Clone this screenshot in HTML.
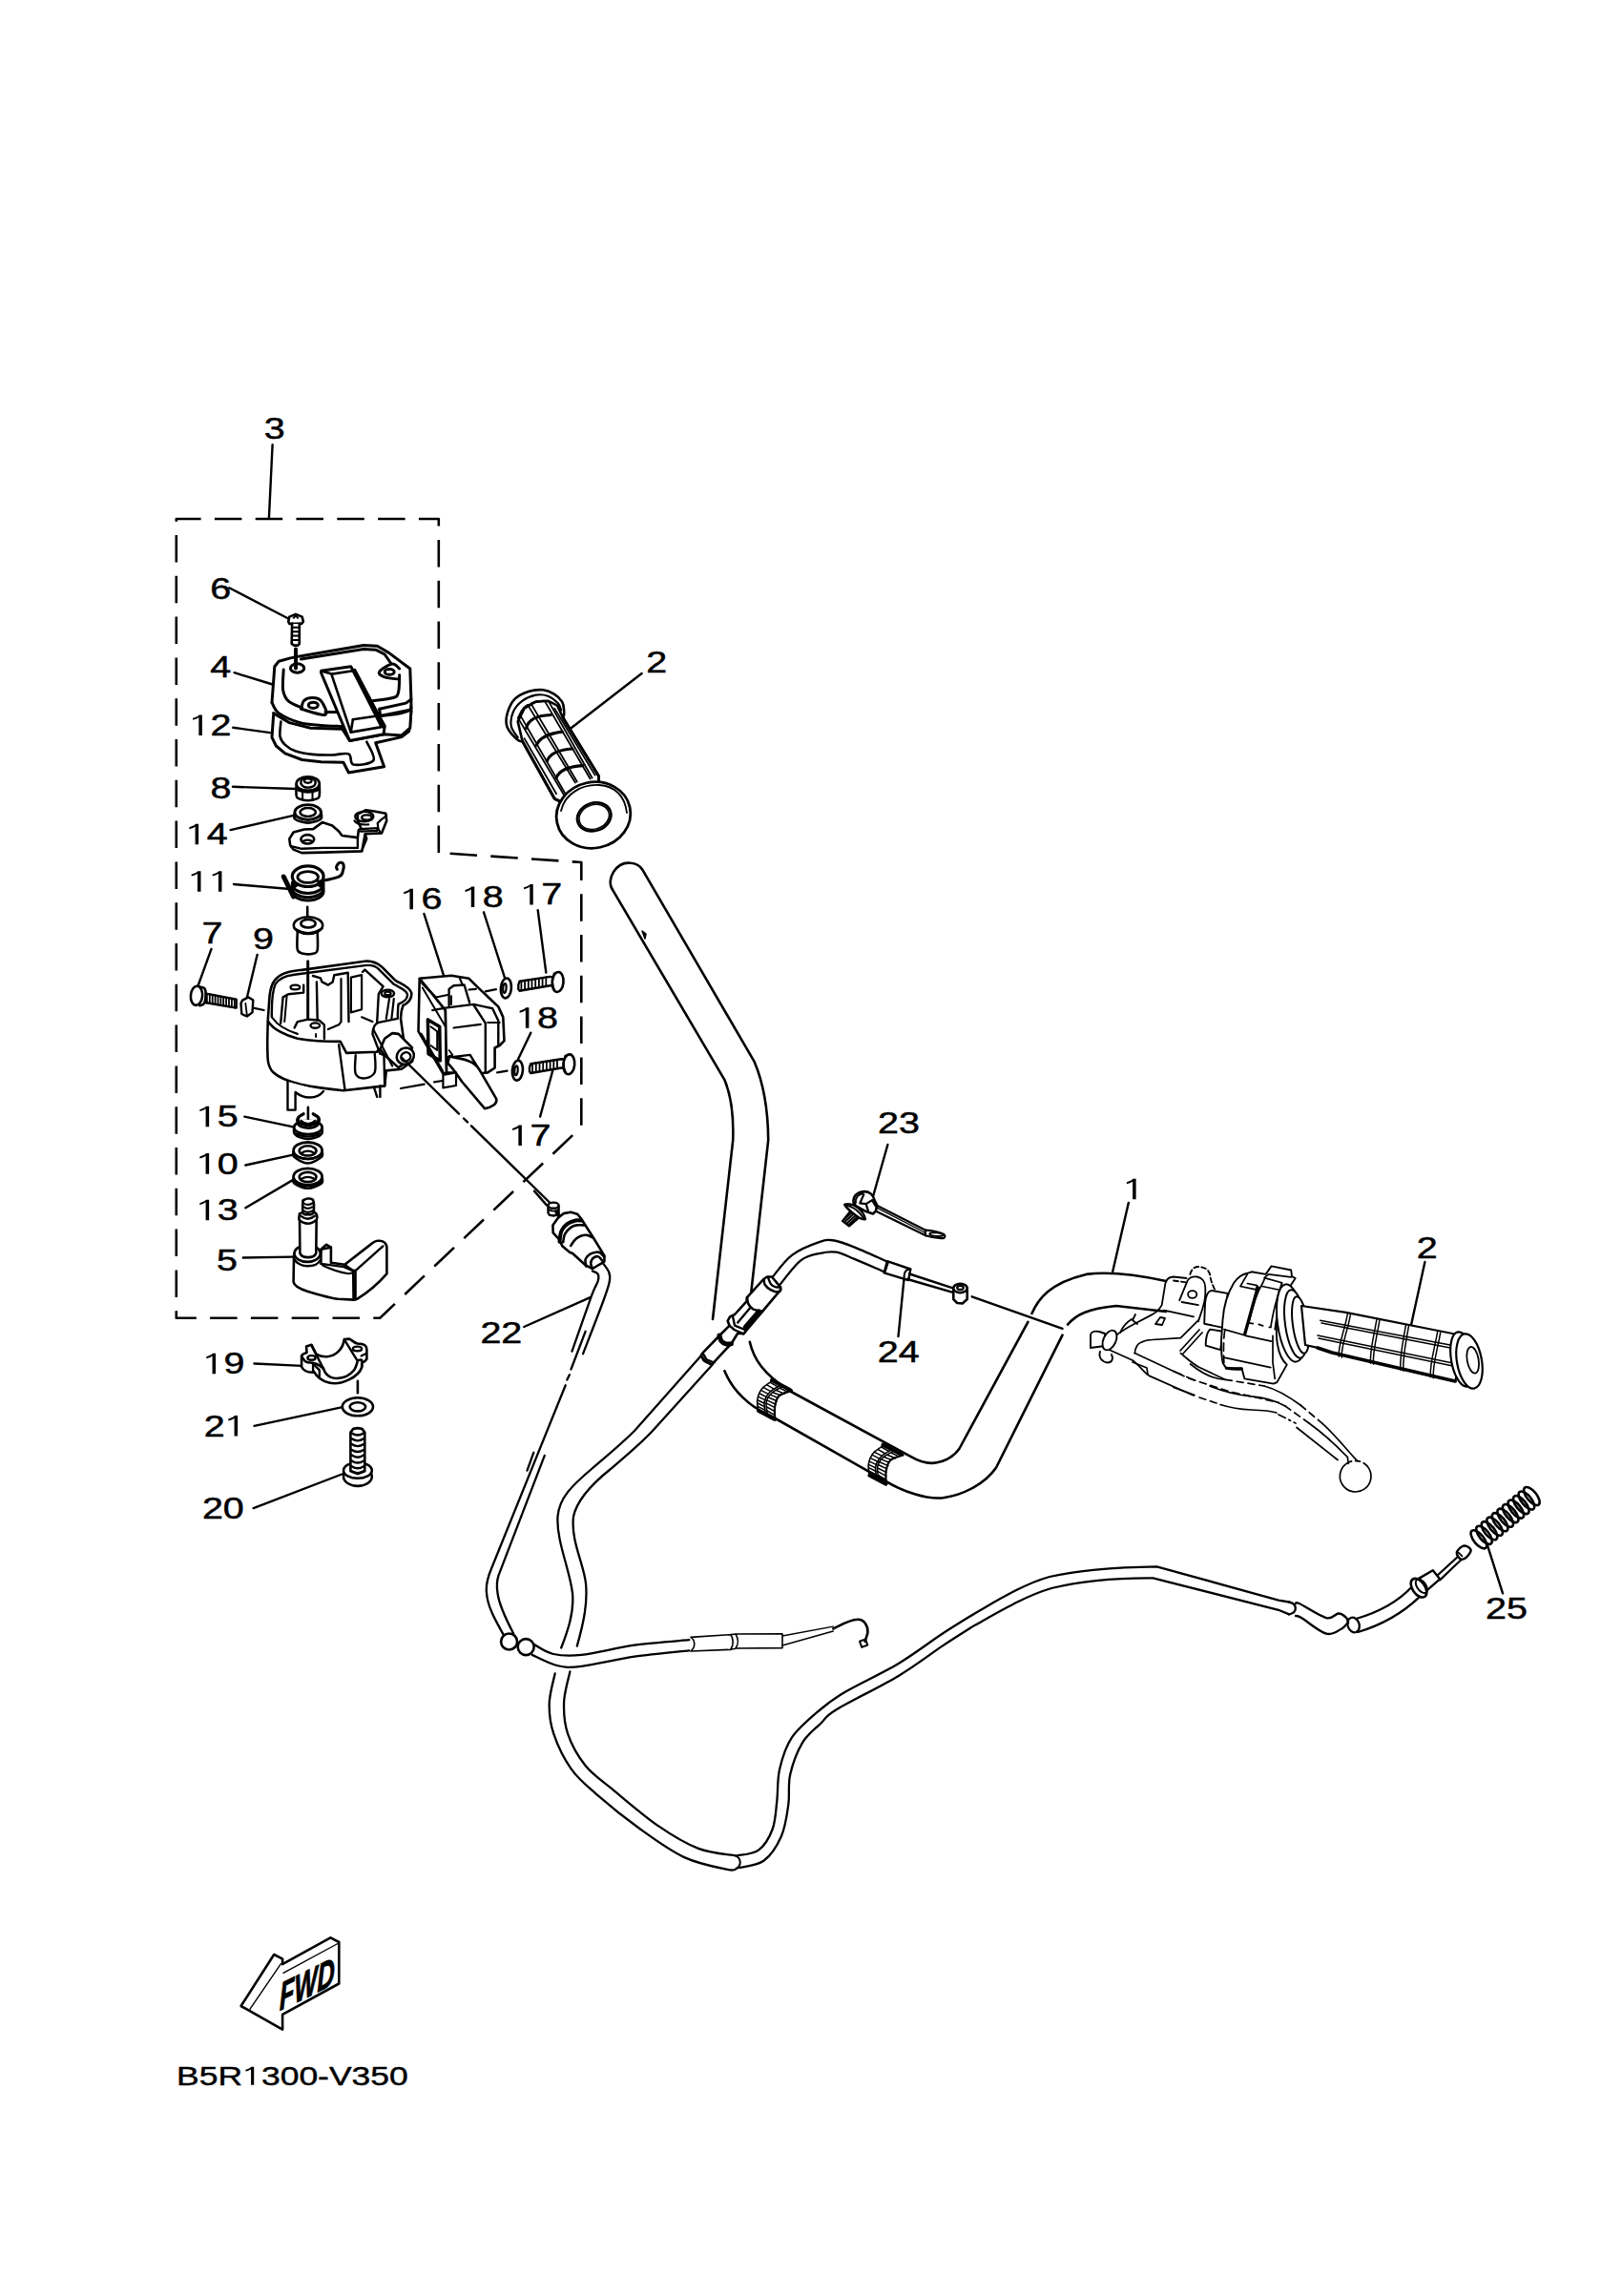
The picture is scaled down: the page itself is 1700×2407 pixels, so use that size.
<!DOCTYPE html>
<html><head><meta charset="utf-8"><style>
html,body{margin:0;padding:0;background:#fff;}
svg{display:block;}
text{font-family:"Liberation Sans",sans-serif;fill:#000;} .lbl text, .lbl path{stroke:#000;stroke-width:1.5px;}
</style></head><body>
<svg width="1700" height="2407" viewBox="0 0 1700 2407">
<g fill="none" stroke="#000" stroke-linecap="round" stroke-linejoin="round">
<!-- leaders -->
<g stroke-width="2.4">
<path d="M285.6,466.3 L281.9,543.3"/>
<path d="M240.3,616.2 L302.2,648.5"/>
<path d="M245.6,705.2 L285.6,717.5"/>
<path d="M244.3,762.8 L285,768.4"/>
<path d="M244,824.8 L310.3,827"/>
<path d="M241.6,870.1 L308.8,854.7"/>
<path d="M245,927 L301,931.7"/>
<path d="M221.5,994.9 L207,1035"/>
<path d="M269.6,1001 L258.5,1047.3"/>
<path d="M444.4,957.9 L465,1022.6"/>
<path d="M507,956.3 L529.2,1025.7"/>
<path d="M563.7,954.2 L572.3,1019.5"/>
<path d="M556.3,1082.7 L543,1110.5"/>
<path d="M580,1119.7 L566.1,1170.6"/>
<path d="M256.3,1170.6 L307.2,1181.4"/>
<path d="M257.3,1221.5 L307.2,1210.7"/>
<path d="M257.3,1266.2 L307.2,1236.9"/>
<path d="M254.8,1318.5 L307.2,1317.6"/>
<path d="M549.2,1391 L618.6,1360.1"/>
<path d="M266.5,1429.5 L316.5,1431.9"/>
<path d="M266.5,1494.8 L359,1475.1"/>
<path d="M265.6,1581.1 L359.6,1545"/>
<path d="M672.6,706 L598.6,763.3"/>
<path d="M930.4,1200 L915.1,1254"/>
<path d="M1182.8,1261 L1166.2,1333.1"/>
<path d="M941.5,1401 L948.4,1331.7"/>
<path d="M1493.4,1323 L1476.4,1401"/>
<path d="M1575,1670.3 L1559,1620.2"/>
</g>
<!-- dashed box -->
<path stroke-width="2.6" stroke-linecap="butt" stroke-dasharray="28.5 14.3" d="M459.8,894 L459.8,544 L184.8,544 L184.8,1381.7 L398.2,1381.7 L609.3,1181.4 L609.3,904 L459.8,894"/>
<!-- handlebar -->
<g stroke-width="2.6">
<path d="M641.2,931.4 C636,922 645,903 661,904.7 C667,905 671,908 673.3,911.7 L790.4,1112.6 C800,1135 805,1165 805.2,1195.3 L787.2,1355.4"/>
<path d="M641.2,931.4 L759.6,1132.4 C766,1148 769,1172 768.2,1195.3 L747,1383"/>
<path d="M759.4,1437.2 C768,1458 786,1475 805.5,1483 L927.6,1552.3 C945,1563 972,1573 990,1570 C1010,1567 1033,1555 1044.1,1538.5 L1113.5,1399.7"/>
<path d="M1119,1388.6 C1128,1378 1140,1372 1170,1369 L1222,1375"/>
<path d="M785.8,1406.7 C790,1425 800,1440 827.4,1458 L955.3,1527.4 C965,1533 975,1535 983,1533 C993,1531 1000,1526 1005.3,1519 L1077.4,1385.8 M1081.5,1377 C1088,1362 1100,1345 1138.5,1335.9 C1160,1333 1190,1336 1222,1343"/>
</g>
<path stroke-width="1.5" fill="#000" d="M673,976 L676,984 L677,979 Z"/>
<!-- FWD arrow -->
<g stroke-width="2.6">
<path d="M252.6,2103 L296.1,2127.6 L296.1,2111.9 L355.3,2079.5 L355.3,2036 L346.4,2031.4 L296.1,2059.2 L296.1,2053.6 L287.2,2049 Z"/>
<path stroke-width="1.4" d="M261.9,2106.3 L294.3,2058.8 M297,2068.4 L355,2037"/>
</g>

<path stroke-width="2.3"  d="M581.7,1754.3 C580.7,1759.6 575.9,1775.6 575.7,1786.2 C575.5,1796.8 576.4,1806.3 580.3,1817.7 C584.1,1829.1 591.4,1844.2 598.8,1854.7 C606.2,1865.2 612.7,1870.1 624.7,1880.6 C636.7,1891.1 655.6,1906.4 671.0,1917.5 C686.4,1928.6 701.8,1940.0 717.2,1947.1 C732.6,1954.2 754.1,1958.2 763.4,1960.1 C772.6,1961.9 771.2,1958.5 772.7,1958.2"/>
<path stroke-width="2.3"  d="M597.4,1752.4 C596.4,1757.7 591.5,1773.5 591.1,1784.4 C590.7,1795.3 591.4,1806.6 595.1,1817.7 C598.9,1828.8 605.6,1841.1 613.6,1851.0 C621.6,1860.9 630.6,1866.4 643.2,1876.9 C655.9,1887.4 674.7,1903.7 689.5,1913.9 C704.3,1924.1 718.5,1932.7 732.0,1937.9 C745.5,1943.1 764.3,1944.1 770.8,1945.3"/>
<path stroke-width="2.3" d="M735.7,1420.3 L665,1500 C650,1515 635,1527 620,1540 C600,1557 586,1570 584.5,1590 C583,1615 597,1645 600,1670 C602,1690 595,1710 588.2,1727.5"/>
<path stroke-width="2.3" d="M746.8,1430.5 L684,1500 C670,1515 655,1527 640,1540 C625,1552 605,1570 601,1590 C598,1615 612,1640 614,1660 C616,1680 612,1700 604.8,1725.6"/>
<path stroke-width="2" d="M770.8,1945.3 C777,1948 777,1955 772.7,1958.2"/>
<path stroke-width="2.3" d="M773.6,1958.2 C778.1,1957.0 792.9,1956.3 800.4,1950.8 C807.9,1945.3 814.6,1934.8 818.9,1925.0 C823.2,1915.2 824.8,1902.5 826.3,1891.7 C827.8,1880.9 825.7,1871.0 828.2,1860.2 C830.7,1849.4 835.8,1835.8 841.1,1826.9 C846.4,1818.0 854.0,1812.8 860.0,1807.0 C866.0,1801.2 863.4,1800.3 877.0,1792.0 C890.6,1783.7 923.2,1768.0 941.7,1756.9 C960.2,1745.8 974.8,1734.2 988.0,1725.4 C1001.2,1716.6 1015.7,1707.6 1021.2,1704.1 C1050,1688 1075,1673 1102,1665 C1130,1658 1170,1654 1208.4,1654.3 L1340,1687.8 L1351.1,1692.4"/>
<path stroke-width="2.3" d="M772.7,1945.3 C776.4,1944.4 788.7,1944.3 794.9,1939.7 C801.1,1935.1 806.5,1926.1 809.7,1917.5 C812.9,1908.9 813.1,1898.5 814.3,1888.0 C815.5,1877.5 814.5,1865.8 817.1,1854.7 C819.7,1843.6 822.9,1831.9 830.0,1821.4 C837.1,1811.0 850.6,1800.0 860.0,1792.0 C869.4,1784.0 872.6,1781.5 886.2,1773.5 C899.8,1765.5 924.7,1754.1 941.7,1743.9 C958.7,1733.7 974.1,1721.6 988.0,1712.5 C1001.9,1703.4 1018.8,1693.2 1025.0,1689.4 C1050,1675 1075,1660 1100,1653 C1130,1646 1170,1643 1212.4,1642.3 L1340,1677.6 L1351.1,1679.5"/>
<path stroke-width="2.3" d="M1351.1,1679.5 C1359,1681 1361,1690 1351.1,1692.4"/>
<path stroke-width="2.3"  d="M1358.0,1681.0 C1358.7,1681.0 1356.9,1678.8 1362.2,1681.3 C1367.5,1683.8 1383.2,1694.4 1390.0,1696.1 C1396.8,1697.8 1399.4,1691.5 1402.9,1691.5 C1406.4,1691.5 1409.5,1694.4 1411.2,1696.1 C1412.9,1697.8 1412.8,1700.8 1413.1,1701.7"/>
<path stroke-width="2.3"  d="M1358.0,1694.0 C1359.0,1694.3 1358.7,1693.0 1364.0,1696.1 C1369.3,1699.2 1382.9,1710.8 1390.0,1712.7 C1397.1,1714.6 1402.9,1709.0 1406.6,1707.2 C1410.3,1705.4 1411.2,1702.6 1412.1,1701.7"/>
<ellipse stroke-width="2.3" cx="1418.6" cy="1703.5" rx="6" ry="8" transform="rotate(-20 1418.6 1703.5)"/>
<path stroke-width="2.3"  d="M1421.4,1697.0 Q1458.4,1686.5 1480.6,1662.8"/>
<path stroke-width="2.3"  d="M1423.2,1711.0 Q1461.2,1699.7 1488.0,1673.9"/>
<path stroke-width="2.3"  d="M808.8,1339.9 C812.3,1335.9 821.5,1322.2 830.0,1315.8 C838.5,1309.4 852.6,1304.1 860.0,1301.6 C867.4,1299.0 868.9,1299.7 874.4,1300.5 C879.9,1301.3 884.2,1303.0 893.3,1306.6 C902.4,1310.2 923.0,1319.5 929.0,1322.1"/>
<path stroke-width="2.3"  d="M817.0,1347.3 C820.7,1343.0 832.1,1327.0 839.3,1321.4 C846.5,1315.8 853.8,1315.2 860.0,1313.8 C866.2,1312.3 870.7,1311.7 876.6,1312.7 C882.5,1313.7 887.2,1316.5 895.5,1319.9 C903.8,1323.3 921.4,1331.0 926.6,1333.2"/>
<path stroke-width="2.3"  d="M620.9,1332.5 C621.9,1333.0 625.7,1334.0 626.7,1335.7 C627.7,1337.5 627.8,1339.2 626.7,1343.0 C625.6,1346.8 624.4,1346.4 619.9,1358.7 C615.4,1371.0 602.9,1407.0 599.5,1416.7"/>
<path stroke-width="2.3"  d="M630.3,1322.1 C631.6,1324.0 636.8,1329.9 638.2,1333.6 C639.6,1337.2 639.8,1338.8 638.7,1344.0 C637.7,1349.2 636.5,1352.5 631.9,1365.0 C627.3,1377.5 614.5,1410.2 611.0,1419.3"/>
<path stroke-width="2.3" d="M613.6,1395.8 L598.5,1435.5 M596.9,1441.3 L594.3,1446.5 M559.3,1522.8 L552.5,1541.6"/>
<path stroke-width="2.3" d="M592.7,1452.2 L515.1,1644.3 C511,1654 509,1662 510,1670 C511,1685 520,1700 528.1,1714.5"/>
<path stroke-width="2.3" d="M570.8,1525.9 L522.5,1651.7 C520.5,1658 520.5,1664 521.5,1670 C523,1682 530,1697 538.3,1712.7"/>
<circle stroke-width="2.6" cx="533.6" cy="1721" r="8.5" fill="#fff"/>
<circle stroke-width="2.6" cx="551.2" cy="1726.6" r="8.5" fill="#fff"/>
<path stroke-width="2.3"  d="M559.5,1723.8 C562.9,1725.5 571.6,1732.2 579.9,1734.0 C588.2,1735.8 595.3,1736.5 609.5,1734.9 C623.7,1733.4 646.2,1727.3 665.0,1724.7 C683.8,1722.1 712.8,1720.1 722.3,1719.2"/>
<path stroke-width="2.3"  d="M557.7,1734.9 C562.0,1736.8 575.0,1744.0 583.6,1746.0 C592.2,1748.0 595.9,1748.5 609.5,1746.9 C623.1,1745.4 646.2,1739.5 665.0,1736.7 C683.8,1733.9 712.8,1731.4 722.3,1730.3"/>
<path stroke-width="1.6" d="M724,1716.4 L765.7,1713.6 L772,1713 L820,1712.8 M724,1731 L765.7,1729.3 L772,1728 L820,1727.6 M724,1716.4 C729,1720 729,1727 724,1731 M765.7,1713.6 C769,1718 769,1725 765.7,1729.3 M771,1713 C774,1718 774,1724 771,1728 M820,1712.8 L820,1727.6"/>
<path stroke-width="1.3" d="M820,1715 L873.3,1705.1 M820,1725 L873.3,1710"/>
<path stroke-width="2.6" d="M873.3,1707.5 C882,1703 890,1698 899.2,1697.7 C906,1697.5 910,1705 909.4,1712 L906.6,1720.8"/>
<rect stroke-width="2" x="902" y="1719.5" width="6.5" height="6.5" transform="rotate(-20 905 1723)"/>
<g stroke-width="1.7">
<path d="M1247.6,1430 C1260,1440 1272,1446 1284.3,1446.3"/>
<path stroke-dasharray="7 5" d="M1284.3,1446.3 L1325,1453"/>
<path d="M1325,1453 C1340,1457 1352,1465 1363,1473"/>
<path stroke-dasharray="7 5" d="M1363,1473 L1386,1492.4"/>
<path d="M1386,1492.4 C1398,1503 1410,1518 1422.6,1531.7"/>
<path stroke-dasharray="9 6" d="M1230,1437.5 L1252,1447"/>
<path d="M1268,1453 C1280,1458 1295,1462 1311.4,1463.9 C1325,1465 1338,1469 1347,1474"/>
<path stroke-dasharray="7 5" d="M1347,1474 L1372,1492"/>
<path d="M1372,1492 C1390,1505 1405,1520 1412.4,1527.7 L1413.1,1534.4"/>
<path d="M1230,1454.4 L1252,1462.5"/>
<path stroke-dasharray="7 5" d="M1257,1465 L1275,1471"/>
<path d="M1279,1472.5 C1290,1476 1300,1477.5 1311.4,1478 C1325,1478.5 1333,1479.5 1338,1481"/>
<path stroke-dasharray="8 4 2 4" d="M1340,1483 L1358,1492"/>
<path d="M1359,1496.5 L1402,1530.5"/>
<path d="M1413.5,1533 A16.3,16.3 0 1 0 1433,1537"/>
<path stroke-dasharray="5 4" d="M1433,1537 A16.3,16.3 0 0 0 1413.5,1533"/>
<path d="M1159.7,1413.7 L1186.9,1426 C1195,1432 1200,1440 1204.1,1442.1 L1251,1463"/>
<path d="M1189.3,1418.6 L1241.1,1442.7"/>
<path stroke-dasharray="7 5" d="M1246,1445 L1290,1459.3 L1318.8,1465.5 L1340,1470.4"/>
<path d="M1189.3,1418.6 C1190,1412 1193,1408 1195.5,1407.5 C1200,1405 1204,1404.5 1207.8,1404.5 L1237.4,1402.6 L1255.9,1384.1"/>
<path d="M1237.4,1418.6 C1245,1425 1250,1430 1257.1,1433.4 L1283,1445.8"/>
<path d="M1237,1416 L1257,1394 M1240,1419 L1260,1397"/>
<path d="M1187,1428 L1202,1434 L1203,1441"/>
</g>
<g stroke-width="1.8">
<path d="M1168.4,1400.8 C1175,1396 1181,1392 1186.9,1389 L1206.6,1378.6 C1212,1376 1215,1373 1217.7,1368.1 L1221.4,1345.3 C1223,1340 1226,1338.5 1230,1338.5 L1243.6,1340"/>
<path stroke-dasharray="5 3" d="M1230,1342.5 L1243,1344.5"/>
<path d="M1236.2,1363.2 L1244.8,1342.2 C1247,1339 1251,1338 1254.7,1338.5 C1260,1339.5 1263.3,1344 1263.3,1350 L1263.3,1357 C1263,1365 1261,1370 1259.6,1374.3 L1255.9,1385.4"/>
<path stroke-dasharray="5 3" d="M1247.3,1336 C1249,1330 1252,1328 1256,1328 C1262,1328 1267,1331 1268,1336 C1269,1343 1271,1347 1273.2,1352.1"/>
<ellipse cx="1249.7" cy="1357" rx="4.6" ry="3.8"/>
<path d="M1238.6,1365 L1255.9,1368.1 M1220.1,1373.6 L1251,1380.4"/>
<path d="M1211,1388 L1216,1381 L1221,1382 L1218,1389 Z"/>
<path d="M1186,1383 C1181,1386 1177,1390 1174,1397 M1190,1378 L1187,1384 L1192,1388"/>
</g>
<g stroke-width="1.9" fill="#fff">
<path d="M1143,1413 L1143,1399 C1144,1396 1148,1395 1152,1396 L1158,1398 L1158,1411 Z"/>
<ellipse cx="1163" cy="1405" rx="6.5" ry="11" transform="rotate(25 1163 1405)"/>
<path d="M1153,1417 C1151,1423 1155,1428 1161,1428.5 C1166,1428 1167,1424 1165,1420"/>
</g>
<path stroke-width="1.9" fill="#fff"  d="M 1286.6,1355.9 L 1269.6,1352.9 C 1266.7,1353.6 1263.7,1358.1 1263.0,1366.2 L 1262.2,1387.7 L 1282.9,1392.1 Z"/>
<path stroke-width="1.9" fill="#fff"  d="M 1281.5,1395.8 L 1268.1,1393.6 C 1265.2,1396.6 1263.7,1402.5 1263.7,1410.6 L 1279.2,1415.1 Z"/>
<path stroke-width="1.9" fill="#fff"  d="M 1281.5,1384.0 C 1282.2,1372.9 1285.2,1358.1 1293.3,1344.8 C 1297.0,1339.6 1301.4,1335.9 1307.3,1334.8 L 1311.8,1333.3 L 1326.6,1335.9 L 1332.5,1327.4 L 1353.2,1331.5 L 1354.0,1338.1 L 1357.7,1340.0 C 1352.5,1347.0 1342.9,1361.8 1338.4,1384.0 C 1336.9,1398.8 1337.7,1421.0 1348.8,1430.6 L 1338.4,1449.1 L 1334.7,1450.6 L 1304.4,1445.4 L 1301.4,1434.3 L 1285.2,1434.3 L 1282.2,1429.9 C 1280.0,1425.4 1280.0,1413.6 1280.0,1406.2 L 1280.7,1395.1 Z"/>
<path stroke-width="1.7"  d="M 1300.0,1348.5 L 1307.3,1335.9 M 1300.0,1348.5 L 1316.2,1351.8 L 1317.7,1347.7 L 1307.3,1345.5"/>
<path stroke-width="1.7"  d="M 1303.6,1399.5 L 1317.7,1348.5 M 1305.1,1400.3 L 1319.2,1349.2"/>
<path stroke-width="1.7"  d="M 1308.8,1386.9 C 1311.8,1372.9 1317.7,1354.4 1323.6,1344.8 L 1325.8,1339.6"/>
<path stroke-width="1.7"  d="M 1322.9,1348.5 L 1342.1,1352.5 L 1343.6,1344.8 L 1325.1,1339.6 L 1329.5,1335.9 L 1353.2,1338.9"/>
<path stroke-width="1.7"  d="M 1331.8,1391.4 C 1334.0,1376.6 1337.7,1361.8 1343.6,1344.8 M 1336.2,1393.6 C 1338.4,1376.6 1342.1,1358.1 1348.8,1347.0"/>
<path stroke-width="1.7"  d="M 1308.8,1386.9 L 1313.3,1387.7 M 1319.2,1388.4 L 1323.6,1389.9 M 1330.3,1391.4 L 1331.8,1391.4"/>
<path stroke-width="1.7"  d="M 1282.9,1393.6 L 1303.6,1399.5 M 1305.9,1400.3 L 1332.5,1406.2 M 1282.9,1423.2 L 1331.8,1433.6"/>
<path stroke-width="1.7"  d="M 1334.0,1400.3 L 1334.0,1428.4 L 1336.2,1445.4"/>
<path stroke-width="1.7" stroke-dasharray="8 5" d="M 1283.7,1395.1 C 1282.2,1402.5 1282.2,1421.0 1282.9,1428.4"/>
<path stroke-width="3"  d="M 1285.2,1434.3 C 1289.6,1435.0 1297.0,1435.8 1301.4,1435.0"/>
<g stroke-width="2" fill="#fff">
<ellipse cx="1353" cy="1387" rx="14" ry="41" transform="rotate(-8 1353 1387)"/>
<ellipse cx="1358" cy="1388" rx="11" ry="36" transform="rotate(-8 1358 1388)"/>
<ellipse cx="1363" cy="1389" rx="8" ry="30" transform="rotate(-8 1363 1389)"/>
</g>
<path fill="#fff" stroke-width="2.2" d="M1364,1369 L1410.6,1375.8 L1536.3,1400.8 L1525.2,1448 L1396,1418 L1381,1412.8 L1368,1410 Z"/>
<path stroke-width="3.5" d="M1381,1413 L1396,1418 L1525.2,1448"/>
<path stroke-width="1.5" d="M1383.7,1384.2 L1525.2,1411 M1385,1387 L1525.2,1414 M1381,1399.9 L1525.2,1429.5 M1382,1403 L1525.2,1432.5"/>
<path stroke-width="1.5" d="M1412.4,1377.1 C1409.4,1395.1 1402.2,1410.1 1403.2,1422.1 M1415.4,1378.1 C1412.4,1396.1 1405.2,1411.1 1406.2,1423.1"/>
<path stroke-width="1.5" d="M1442.9,1383.2 C1439.9,1401.2 1435.5,1416.2 1436.5,1429.1 M1445.9,1384.2 C1442.9,1402.2 1438.5,1417.2 1439.5,1430.1"/>
<path stroke-width="1.5" d="M1473.4,1389.3 C1470.4,1407.3 1466.9,1422.3 1467.9,1436.1 M1476.4,1390.3 C1473.4,1408.3 1469.9,1423.3 1470.9,1437.1"/>
<path stroke-width="1.5" d="M1506.7,1395.9 C1503.7,1413.9 1498.3,1428.9 1499.3,1443.8 M1509.7,1396.9 C1506.7,1414.9 1501.3,1429.9 1502.3,1444.8"/>
<g stroke-width="2.2" fill="#fff">
<ellipse cx="1533" cy="1425" rx="12" ry="29" transform="rotate(-10 1533 1425)"/>
<ellipse cx="1540" cy="1427" rx="13" ry="29" transform="rotate(-10 1540 1427)"/>
<ellipse stroke-width="1.8" cx="1543.7" cy="1425.8" rx="6" ry="14" transform="rotate(-10 1543.7 1425.8)"/>
</g>
<path stroke-width="3" fill="#fff"  d="M286.6,749.9 L285.0,773.2 L289.4,782.0 L298.9,789.8 L316.6,796.5 L336.6,798.7 L359.9,799.2 L365.4,810.0 L402.6,803.7 L393.7,778.7 L420.9,772.6 L428.7,766.5 L430.9,745.4"/>
<path stroke-width="2.6"  d="M294.4,756.5 C294.3,759.1 292.8,768.0 293.5,772.0 C294.3,776.1 296.1,778.3 298.9,780.9 C301.6,783.5 305.1,785.9 310.0,787.6 C314.8,789.2 321.4,790.3 327.7,790.9 C334.0,791.6 341.4,791.6 347.7,791.5 C354.0,791.4 361.6,788.7 365.4,790.4 C369.2,792.0 366.1,800.3 370.4,801.5 C374.8,802.6 389.2,801.0 391.5,797.0 C393.8,793.0 385.5,780.8 384.3,777.6"/>
<path stroke-width="2.6"  d="M422.0,751.5 L420.4,763.7 L407.6,767.1"/>
<path stroke-width="3" fill="#fff"  d="M285.0,736.5 L287.8,698.8 L292.2,693.3 L304.4,689.9 L314.4,687.9 L381.0,676.6 L395.4,677.2 L407.6,684.4 L429.8,701.0 L430.9,733.2 L430.9,745.4 L429.8,763.2 L420.9,770.9 L402.1,769.8 L366.5,776.5 L358.8,764.3 L325.5,763.2 L303.3,757.6 L286.6,747.6"/>
<path stroke-width="3"  d="M285.0,736.5 C286.2,738.4 287.3,744.1 292.2,747.6 C297.1,751.1 307.0,755.5 314.4,757.6 C321.8,759.7 329.2,759.7 336.6,760.4 C344.0,761.0 355.1,761.3 358.8,761.5"/>
<path stroke-width="3"  d="M430.9,733.2 L425.4,737.1 L397.6,743.2 L398.7,750.4 L429.8,744.3"/>
<path stroke-width="3"  d="M399.8,750.4 Q433.1,747.4 430.9,741.0"/>
<path stroke-width="3"  d="M315.5,691.0 L381.0,680.5 L394.3,681.3 L403.2,686.0 L409.8,695.5"/>
<path stroke-width="3"  d="M297.2,702.1 C297.1,705.6 295.8,717.8 296.6,723.2 C297.5,728.7 298.9,731.7 302.2,734.9 C305.5,738.0 314.2,740.9 316.6,742.1"/>
<path stroke-width="3"  d="M418.7,707.7 C418.5,710.6 418.7,721.5 417.6,725.4 C416.5,729.4 416.9,730.0 412.0,731.5 C407.2,733.1 392.6,734.3 388.7,734.9"/>
<path stroke-width="3"  d="M341.0,746.5 L354.3,746.5"/>
<path stroke-width="3"  d="M315.5,743.2 C316.1,741.7 316.8,736.3 318.8,734.3 C320.9,732.4 324.7,731.4 327.7,731.5 C330.7,731.6 334.4,731.9 336.6,734.9 C338.8,737.8 344.5,747.9 341.0,749.3 C337.5,750.7 319.8,744.2 315.5,743.2"/>
<ellipse stroke-width="3" cx="328.3" cy="739.3" rx="5.0" ry="3.1" transform="rotate(0 328.3 739.3)"/>
<path stroke-width="3"  d="M418.7,712.1 C416.1,711.8 406.7,711.2 403.2,709.9 C399.7,708.6 396.3,706.7 397.6,704.4 C398.9,702.0 407.4,696.6 410.9,696.0 C414.5,695.5 417.4,700.2 418.7,701.0"/>
<ellipse stroke-width="3" cx="408.2" cy="704.4" rx="5.0" ry="2.9" transform="rotate(0 408.2 704.4)"/>
<ellipse stroke-width="3" cx="311.6" cy="700.5" rx="7.2" ry="4.7" transform="rotate(0 311.6 700.5)"/>
<path stroke-width="3" fill="#fff"  d="M336.6,703.2 L367.7,698.8 L403.2,760.9 L402.1,769.8 L366.5,776.5 L336.6,705.5 Z"/>
<path stroke-width="2.6"  d="M337.7,703.8 L347.7,706.6 L369.9,703.2 L399.8,762.1 L367.7,767.6 L347.7,707.7"/>
<path stroke-width="2.6"  d="M369.9,754.3 L392.1,751.0"/>
<path stroke-width="2.6"  d="M369.9,754.3 L367.7,767.6"/>
<path stroke-width="4.5"  d="M371.5,703.2 L402.1,761.5"/>
<path stroke-width="2.6" fill="#fff"  d="M302.2,651.6 L303.3,646.6 L310.0,643.9 L316.6,646.6 L317.9,651.6 L316.1,653.9 L303.3,653.9 L302.2,651.6"/>
<path stroke-width="2"  d="M307.7,647.8 L310.0,645.5 L312.2,647.8"/>
<path stroke-width="2.6" fill="#fff"  d="M306.1,653.9 L305.7,674.9 L308.3,676.6 L312.2,676.6 L313.8,674.9 L313.8,653.9"/>
<path stroke-width="2"  d="M307.2,657.7 L312.7,657.7"/>
<path stroke-width="2"  d="M307.2,662.2 L312.7,662.2"/>
<path stroke-width="2"  d="M307.2,666.6 L312.7,666.6"/>
<path stroke-width="2"  d="M307.2,671.1 L312.7,671.1"/>
<path stroke-width="4"  d="M310.0,680.5 L310.0,700.5"/>
<path stroke-width="2.6" fill="#fff"  d="M310.6,822.4 C310.6,824.3 310.3,831.2 310.6,833.7 C311.0,836.1 310.8,836.2 312.8,837.1 C314.8,838.0 319.4,839.3 322.7,839.3 C326.0,839.3 330.6,838.0 332.7,837.1 C334.7,836.2 334.4,836.1 334.8,833.7 C335.2,831.2 334.8,824.3 334.8,822.4"/>
<ellipse stroke-width="2.6" fill="#fff" cx="322.7" cy="821.6" rx="12.1" ry="7.3" transform="rotate(0 322.7 821.6)"/>
<path stroke-width="2.4" fill="#fff"  d="M315.4,821.6 C315.5,820.9 315.0,818.4 316.3,817.3 C317.5,816.1 320.6,814.7 322.7,814.7 C324.9,814.7 327.9,816.1 329.2,817.3 C330.5,818.4 330.9,820.3 330.5,821.6 C330.1,822.9 328.6,824.5 326.6,825.0 C324.7,825.6 320.7,825.6 318.8,825.0 C317.0,824.5 316.0,822.2 315.4,821.6"/>
<ellipse stroke-width="2.2" cx="322.7" cy="818.6" rx="3.9" ry="2.2" transform="rotate(0 322.7 818.6)"/>
<path stroke-width="4"  d="M312.8,827.6 Q322.7,831.9 332.7,827.6"/>
<path stroke-width="2"  d="M317.1,829.8 L317.1,838.0"/>
<path stroke-width="2"  d="M327.5,829.8 L327.5,838.0"/>
<path stroke-width="2.6" fill="#fff"  d="M308.9,851.8 C309.0,852.9 307.0,856.9 309.3,858.7 C311.6,860.5 318.3,862.6 322.7,862.6 C327.2,862.6 333.8,860.5 336.1,858.7 C338.4,856.9 336.5,852.9 336.5,851.8"/>
<ellipse stroke-width="2.8" fill="#fff" cx="322.7" cy="851.5" rx="13.8" ry="7.9" transform="rotate(0 322.7 851.5)"/>
<ellipse stroke-width="2.6" cx="322.7" cy="851.5" rx="8.2" ry="4.5" transform="rotate(0 322.7 851.5)"/>
<path stroke-width="2.2"  d="M310.2,856.1 Q322.7,863.0 335.2,856.1"/>
<path stroke-width="2.6" fill="#fff"  d="M304.2,886.3 L303.3,879.4 L307.6,872.5 L318.8,869.5 L328.3,869.1 L337.8,862.1 L348.2,865.6 L355.1,871.6 L358.5,876.0 L374.9,878.1 L375.8,870.3 L378.4,868.2 L374.9,860.4 L374.9,853.5 L383.6,849.2 L392.2,850.5 L404.3,852.7 L405.2,860.4 L400.0,873.4 L382.7,874.2 L379.3,892.4 L338.7,893.6 L316.3,894.1 L307.6,890.6 L304.2,886.3"/>
<path stroke-width="2.4"  d="M305.0,887.2 L316.3,889.8 L338.7,888.9 L374.9,888.9 L374.9,878.1"/>
<path stroke-width="2.2"  d="M379.3,891.5 L384.4,879.4 L382.7,874.2"/>
<path stroke-width="2.2"  d="M377.5,869.1 L395.7,868.2 L395.2,870.8 L378.0,871.6"/>
<path stroke-width="2.2"  d="M405.2,855.2 L399.1,859.6 L395.7,863.0 L396.5,869.1 L399.1,873.4"/>
<ellipse stroke-width="2.4" cx="381.8" cy="856.1" rx="9.5" ry="5.2" transform="rotate(0 381.8 856.1)"/>
<ellipse stroke-width="2.4" cx="384.4" cy="857.0" rx="5.2" ry="2.6" transform="rotate(0 384.4 857.0)"/>
<path stroke-width="2.2"  d="M371.5,860.4 Q374.5,865.4 386.2,864.3"/>
<ellipse stroke-width="2.6" cx="322.3" cy="879.8" rx="6.9" ry="4.7" transform="rotate(0 322.3 879.8)"/>
<path stroke-width="2.2"  d="M318.0,881.6 Q322.7,879.6 327.5,882.0"/>
<path stroke-width="5"  d="M297.3,919.1 L307.6,940.0"/>
<path stroke-width="2"  d="M297.7,919.5 L307.4,940.0"/>
<ellipse stroke-width="3" cx="322.7" cy="934.6" rx="16.4" ry="9.5" transform="rotate(0 322.7 934.6)"/>
<ellipse stroke-width="3" cx="322.7" cy="931.2" rx="16.4" ry="9.5" transform="rotate(0 322.7 931.2)"/>
<ellipse stroke-width="3" cx="322.7" cy="926.9" rx="16.4" ry="9.5" transform="rotate(0 322.7 926.9)"/>
<ellipse stroke-width="3.2" fill="#fff" cx="322.7" cy="918.7" rx="16.4" ry="10.8" transform="rotate(0 322.7 918.7)"/>
<ellipse stroke-width="2.8" cx="322.7" cy="919.5" rx="10.8" ry="5.9" transform="rotate(0 322.7 919.5)"/>
<path stroke-width="3"  d="M333.5,924.3 C337.1,923.4 350.8,921.0 355.1,919.1 C359.4,917.2 358.6,915.3 359.4,913.1 C360.2,910.8 360.4,907.2 359.8,905.7 C359.3,904.3 357.2,903.9 356.0,904.4 C354.7,904.9 352.9,907.6 352.5,908.8 C352.1,909.9 353.2,910.9 353.4,911.3"/>
<path stroke-width="2.6"  d="M322.2,950.8 L322.2,966.9"/>
<path stroke-width="2.6" fill="#fff"  d="M311.8,976.5 C311.8,979.7 310.8,991.8 311.8,995.7 C312.9,999.6 315.6,999.1 318.2,999.7 C320.9,1000.4 325.5,1000.4 327.9,999.7 C330.3,999.1 331.9,999.6 332.7,995.7 C333.5,991.8 332.7,979.7 332.7,976.5"/>
<ellipse stroke-width="2.6" fill="#fff" cx="323.0" cy="970.1" rx="15.2" ry="8.8" transform="rotate(0 323.0 970.1)"/>
<ellipse stroke-width="2.6" cx="323.0" cy="968.2" rx="7.7" ry="4.3" transform="rotate(0 323.0 968.2)"/>
<path stroke-width="2.4"  d="M308.6,973.3 Q323.0,982.9 337.5,973.3"/>
<path stroke-width="2.4" fill="#fff"  d="M210.8,1040.6 L247.7,1047.8 L247.7,1056.6 L210.8,1050.2"/>
<path stroke-width="1.8"  d="M214.0,1041.2 L214.0,1051.1"/>
<path stroke-width="1.8"  d="M216.9,1041.8 L216.9,1051.6"/>
<path stroke-width="1.8"  d="M219.8,1042.3 L219.8,1052.1"/>
<path stroke-width="1.8"  d="M222.7,1042.9 L222.7,1052.6"/>
<path stroke-width="1.8"  d="M225.6,1043.4 L225.6,1053.0"/>
<path stroke-width="1.8"  d="M228.5,1044.0 L228.5,1053.5"/>
<path stroke-width="1.8"  d="M231.4,1044.5 L231.4,1054.0"/>
<path stroke-width="1.8"  d="M234.2,1045.1 L234.2,1054.5"/>
<path stroke-width="1.8"  d="M237.1,1045.6 L237.1,1055.0"/>
<path stroke-width="1.8"  d="M240.0,1046.1 L240.0,1055.5"/>
<path stroke-width="1.8"  d="M242.9,1046.7 L242.9,1056.0"/>
<path stroke-width="1.8"  d="M245.8,1047.2 L245.8,1056.5"/>
<path stroke-width="2.6" fill="#fff"  d="M207.6,1034.2 C208.7,1034.5 212.7,1034.5 214.0,1035.8 C215.4,1037.1 215.6,1039.5 215.6,1042.2 C215.6,1044.9 215.1,1049.8 214.0,1051.8 C213.0,1053.8 210.0,1053.8 209.2,1054.2"/>
<ellipse stroke-width="2.6" fill="#fff" cx="206.0" cy="1043.8" rx="6.1" ry="10.1" transform="rotate(5 206.0 1043.8)"/>
<path stroke-width="2.4" fill="#fff"  d="M254.1,1048.6 L260.5,1045.4 L265.3,1048.6 L264.5,1061.4 L258.9,1065.5 L253.3,1063.0 L252.5,1051.8 Z"/>
<path stroke-width="1.8"  d="M257.3,1051.8 L258.9,1064.6"/>
<path stroke-width="2.2"  d="M265.3,1056.6 L276.6,1059.0"/>
<path stroke-width="2.6" fill="#fff"  d="M 280.6,1109.5 C 279.8,1090.3 280.6,1066.3 282.2,1048.6 C 283.0,1034.2 286.2,1026.2 295.8,1021.4 C 302.2,1018.2 308.6,1017.8 318.2,1016.6 L 382.4,1007.7 C 390.4,1006.9 395.2,1009.3 400.0,1013.4 L 414.4,1027.8 C 420.8,1031.8 428.8,1034.2 431.2,1040.6 C 432.0,1047.0 427.2,1051.8 422.4,1054.2 C 420.8,1058.2 420.0,1063.0 420.0,1067.9 L 424.0,1096.7 L 433.6,1104.7 L 432.0,1112.7 L 420.8,1120.8 L 404.8,1122.4 L 403.2,1138.4 L 359.9,1143.2 C 342.3,1141.6 326.3,1139.2 315.0,1136.8 C 302.2,1133.6 292.6,1130.4 286.2,1124.0 C 283.0,1120.8 281.0,1115.9 280.6,1109.5 Z"/>
<path stroke-width="2.4"  d="M 284.9,1066.3 C 284.6,1051.8 285.4,1039.0 288.6,1031.8 C 291.8,1025.4 299.0,1023.0 308.6,1021.7 L 382.4,1012.1 C 388.8,1011.4 393.6,1012.6 396.8,1015.8 L 412.8,1031.8 C 419.2,1035.8 425.6,1037.4 426.9,1042.2 C 427.6,1047.0 424.0,1050.2 417.6,1052.6 C 416.8,1058.2 416.8,1063.0 416.8,1067.9 L 396.8,1071.9 C 392.8,1073.5 391.2,1076.2 390.4,1083.9 L 398.4,1104.7 L 403.2,1106.3"/>
<path stroke-width="2.6"  d="M 281.4,1071.1 C 286.2,1079.1 299.0,1085.5 311.8,1088.7 C 326.3,1091.1 342.3,1091.9 356.7,1091.9 L 363.1,1103.9 L 395.2,1102.8 L 396.8,1099.9"/>
<path stroke-width="2.2"  d="M285.9,1067.5 Q292.7,1077.6 311.8,1083.9"/>
<path stroke-width="2.4"  d="M294.2,1072.7 L296.6,1045.4 L302.2,1042.2 L318.2,1040.6 L318.2,1032.6"/>
<path stroke-width="2"  d="M298.2,1071.1 L300.6,1043.8"/>
<ellipse stroke-width="2.4" cx="309.4" cy="1035.0" rx="4.8" ry="2.4" transform="rotate(0 309.4 1035.0)"/>
<path stroke-width="2.4" fill="#fff"  d="M308.6,1077.5 L311.8,1071.1 L323.0,1068.7 L334.3,1069.5 L339.9,1074.3 L339.9,1088.7"/>
<ellipse stroke-width="2.4" cx="330.3" cy="1075.1" rx="4.8" ry="2.7" transform="rotate(0 330.3 1075.1)"/>
<path stroke-width="2"  d="M331.1,1087.1 L331.1,1083.9"/>
<path stroke-width="3"  d="M322.7,1007.7 L322.7,1067.9"/>
<path stroke-width="2.4"  d="M331.9,1029.4 L332.7,1069.5"/>
<path stroke-width="2.4"  d="M327.9,1023.0 L335.9,1025.4 L337.5,1029.4 L343.9,1032.6 L348.7,1029.4 L350.3,1022.2 L364.7,1019.8 L365.5,1071.1"/>
<path stroke-width="2.2"  d="M357.5,1026.2 L357.5,1071.1 L355.1,1074.3 L343.9,1079.1"/>
<path stroke-width="2.2"  d="M367.9,1024.6 L379.1,1022.2 L379.1,1058.2 L367.9,1061.4 L367.9,1024.6"/>
<path stroke-width="2.2"  d="M379.1,1066.3 L390.4,1071.1"/>
<path stroke-width="2.4"  d="M380.0,1019.0 L382.4,1016.6 L401.6,1034.2 L396.8,1042.2 L395.2,1071.1"/>
<ellipse stroke-width="2.4" cx="406.4" cy="1041.4" rx="6.7" ry="3.8" transform="rotate(0 406.4 1041.4)"/>
<ellipse stroke-width="2.2" cx="406.4" cy="1041.4" rx="3.2" ry="1.8" transform="rotate(0 406.4 1041.4)"/>
<path stroke-width="2.2"  d="M408.0,1047.0 L404.8,1067.9"/>
<path stroke-width="2.2"  d="M412.8,1047.0 L410.4,1067.9"/>
<path stroke-width="2.4"  d="M355.1,1095.1 L361.5,1142.4"/>
<path stroke-width="2.4"  d="M372.7,1106.3 C372.7,1109.5 371.1,1121.6 372.7,1125.6 C374.3,1129.6 379.0,1130.6 382.4,1130.4 C385.7,1130.1 391.0,1128.2 392.8,1124.0 C394.5,1119.7 392.8,1107.9 392.8,1104.7"/>
<path stroke-width="2.4"  d="M402.4,1103.1 L403.2,1138.4"/>
<path stroke-width="2.4" fill="#fff" d="M301.5,1134 L301.5,1163.6 L309.6,1163.6 L309.6,1145 C318,1152 332,1153 339,1144"/>
<path stroke-width="2.4"  d="M392.0,1140.0 L395.2,1149.9"/>
<path stroke-width="2.4"  d="M398.4,1138.4 L398.4,1149.9"/>
<path stroke-width="2.6" fill="#fff"  d="M398.4,1099.9 L403.2,1088.7 L411.2,1083.1 L417.6,1083.9 L432.0,1098.3 L422.4,1115.9 L417.6,1119.1 L403.2,1106.3 Z"/>
<ellipse stroke-width="2.6" fill="#fff" cx="424.8" cy="1107.1" rx="9.3" ry="8.3" transform="rotate(-30 424.8 1107.1)"/>
<ellipse stroke-width="2.4" cx="425.3" cy="1107.9" rx="5.1" ry="4.5" transform="rotate(-30 425.3 1107.9)"/>
<path stroke-width="2.2"  d="M391.2,1079.1 L411.2,1117.5"/>
<path stroke-width="2.4" d="M421.3,1109 L481,1167.6 M486,1172.5 L490,1176.4 M494,1180.3 L578.5,1263"/>
<path stroke-width="2.6" fill="#fff"  d="M439.7,1026.4 L442.2,1025.8 L466.9,1059.1 L468.1,1124.4 L464.4,1125.6 L438.5,1081.2 L439.7,1027.0 Z"/>
<path stroke-width="2"  d="M442.8,1035.6 L466.9,1076.3"/>
<path stroke-width="2"  d="M441.6,1083.7 L464.4,1123.2"/>
<path stroke-width="3.5"  d="M448.4,1068.9 L460.7,1076.3 L461.3,1112.1 L449.0,1104.7 L448.4,1068.9"/>
<path stroke-width="2"  d="M451.4,1076.3 L458.2,1081.2 L458.2,1101.0 L451.4,1096.0"/>
<path stroke-width="2.6" fill="#fff"  d="M439.7,1025.8 L473.0,1022.7 L491.5,1025.8 L500.1,1034.4 L522.3,1055.4 L527.3,1066.4 L528.5,1091.1 L523.6,1096.0 L518.6,1098.5 L518.6,1119.5 L511.2,1124.4 L501.4,1125.6 L468.1,1124.4 L466.9,1059.1 Z"/>
<path stroke-width="2.2"  d="M442.2,1030.7 L457.0,1045.5 L469.3,1043.0"/>
<path stroke-width="2.2"  d="M481.7,1025.1 L491.5,1049.2"/>
<path stroke-width="2.4" fill="#fff"  d="M470.6,1054.1 L470.6,1036.9 L475.5,1033.2 L486.6,1032.5 L492.1,1051.0"/>
<path stroke-width="2"  d="M473.0,1044.3 L473.0,1052.9"/>
<path stroke-width="2.4"  d="M453.3,1059.1 L466.9,1056.6 L496.4,1052.9 L516.2,1057.2 L522.3,1070.1 L522.3,1096.0"/>
<path stroke-width="2.4"  d="M496.4,1053.5 L508.8,1072.6 L508.8,1123.2"/>
<path stroke-width="2.2"  d="M475.5,1077.5 L503.8,1073.8"/>
<path stroke-width="2.2"  d="M511.2,1072.0 L523.6,1072.0"/>
<path stroke-width="2.2"  d="M491.5,1037.5 L498.9,1036.9"/>
<path stroke-width="2.4"  d="M471.8,1108.4 L492.7,1105.9 L500.1,1118.2 L501.4,1125.6"/>
<path stroke-width="3"  d="M475.5,1115.8 L497.7,1114.5"/>
<path stroke-width="2.6" fill="#fff" d="M470.9,1107.4 C485,1110 497,1112 502,1120.7 L520,1151.7 C522,1157 515,1161 508,1162.1 L484.2,1134 C480,1128 475,1120 469.4,1114.7 Z"/>
<path stroke-width="2.2" fill="#fff"  d="M464.4,1126.9 L478.0,1124.4 L478.0,1138.0 L464.4,1140.4 L464.4,1126.9"/>
<path stroke-width="1.8"  d="M470.6,1101.0 L474.3,1105.9 L469.3,1108.4"/>
<path stroke-width="2.2"  d="M508.8,1039.3 L519.9,1037.1"/>
<path stroke-width="2.2"  d="M521.1,1124.4 L531.6,1122.6"/>
<path stroke-width="2.2"  d="M420.0,1141.0 L444.7,1136.7"/>
<path stroke-width="2.2"  d="M455.1,1134.3 L463.8,1133.0"/>
<ellipse stroke-width="2.6" fill="#fff" cx="530.4" cy="1035.9" rx="5.5" ry="10.5" transform="rotate(5 530.4 1035.9)"/>
<ellipse stroke-width="2.2" cx="528.9" cy="1035.9" rx="1.7" ry="4.9" transform="rotate(5 528.9 1035.9)"/>
<path stroke-width="1.6"  d="M526.0,1030.9 L525.4,1040.8"/>
<ellipse stroke-width="2.6" fill="#fff" cx="542.4" cy="1122.2" rx="5.5" ry="10.5" transform="rotate(5 542.4 1122.2)"/>
<ellipse stroke-width="2.2" cx="541.0" cy="1122.2" rx="1.7" ry="4.9" transform="rotate(5 541.0 1122.2)"/>
<path stroke-width="1.6"  d="M538.1,1117.3 L537.5,1127.1"/>
<path stroke-width="2.4" fill="#fff"  d="M543.3,1032.5 L544.5,1028.8 L576.6,1023.9 L580.3,1024.5 L580.3,1033.2 L576.6,1033.2 L544.5,1038.7 L543.3,1036.9 Z"/>
<path stroke-width="1.8"  d="M546.4,1028.8 L546.4,1038.3"/>
<path stroke-width="1.8"  d="M550.1,1028.2 L550.1,1037.7"/>
<path stroke-width="1.8"  d="M553.8,1027.6 L553.8,1037.1"/>
<path stroke-width="1.8"  d="M557.5,1027.0 L557.5,1036.5"/>
<path stroke-width="1.8"  d="M561.2,1026.4 L561.2,1035.9"/>
<path stroke-width="1.8"  d="M564.9,1025.8 L564.9,1035.3"/>
<path stroke-width="1.8"  d="M568.6,1025.1 L568.6,1034.6"/>
<path stroke-width="1.8"  d="M572.3,1024.5 L572.3,1034.0"/>
<ellipse stroke-width="2.6" fill="#fff" cx="584.6" cy="1029.5" rx="5.9" ry="10.5" transform="rotate(5 584.6 1029.5)"/>
<path stroke-width="2"  d="M580.9,1020.2 Q576.9,1029.5 581.5,1038.7"/>
<path stroke-width="2.4" fill="#fff"  d="M555.0,1118.9 L556.3,1115.2 L588.3,1110.2 L592.0,1110.8 L592.0,1119.5 L588.3,1119.5 L556.3,1125.0 L555.0,1123.2 Z"/>
<path stroke-width="1.8"  d="M558.1,1115.2 L558.1,1124.6"/>
<path stroke-width="1.8"  d="M561.8,1114.5 L561.8,1124.0"/>
<path stroke-width="1.8"  d="M565.5,1113.9 L565.5,1123.4"/>
<path stroke-width="1.8"  d="M569.2,1113.3 L569.2,1122.8"/>
<path stroke-width="1.8"  d="M572.9,1112.7 L572.9,1122.2"/>
<path stroke-width="1.8"  d="M576.6,1112.1 L576.6,1121.6"/>
<path stroke-width="1.8"  d="M580.3,1111.5 L580.3,1120.9"/>
<path stroke-width="1.8"  d="M584.0,1110.8 L584.0,1120.3"/>
<ellipse stroke-width="2.6" fill="#fff" cx="596.3" cy="1115.8" rx="5.9" ry="10.5" transform="rotate(5 596.3 1115.8)"/>
<path stroke-width="2"  d="M592.6,1106.5 Q588.6,1115.8 593.2,1125.0"/>
<path stroke-width="2.6" fill="#fff"  d="M308.1,1182.6 C308.2,1183.5 307.5,1186.8 308.6,1188.5 C309.7,1190.1 312.1,1191.5 314.5,1192.4 C316.9,1193.3 320.1,1193.9 322.9,1193.9 C325.7,1193.9 328.9,1193.3 331.3,1192.4 C333.7,1191.5 336.1,1190.1 337.2,1188.5 C338.3,1186.8 337.6,1183.5 337.7,1182.6"/>
<ellipse stroke-width="2.8" fill="#fff" cx="322.9" cy="1182.1" rx="14.8" ry="7.1" transform="rotate(0 322.9 1182.1)"/>
<path stroke-width="2.2"  d="M309.6,1188.5 Q322.9,1194.4 336.2,1188.5"/>
<path stroke-width="2.6" fill="#fff"  d="M311.6,1173.7 C311.8,1174.7 311.2,1178.1 313.0,1179.6 C314.9,1181.1 319.6,1182.6 322.9,1182.6 C326.2,1182.6 330.8,1181.1 332.8,1179.6 C334.7,1178.1 334.4,1174.7 334.7,1173.7"/>
<path stroke-width="3.4"  d="M318.0,1167.8 C317.1,1168.4 313.3,1170.2 312.6,1171.7 C311.8,1173.2 311.8,1175.3 313.5,1176.6 C315.3,1177.9 319.8,1179.6 322.9,1179.6 C326.0,1179.6 330.5,1177.9 332.3,1176.6 C334.1,1175.3 334.4,1173.2 333.8,1171.7 C333.1,1170.2 329.2,1168.4 328.3,1167.8"/>
<path stroke-width="2.2"  d="M315.5,1174.7 Q322.9,1181.6 330.3,1174.7"/>
<path stroke-width="2.6"  d="M322.9,1160.9 L322.9,1172.7"/>
<path stroke-width="2.6" fill="#fff"  d="M307.6,1207.2 C307.8,1208.2 306.1,1211.1 308.6,1213.1 C311.1,1215.2 317.9,1219.5 322.6,1219.5 C327.3,1219.5 334.2,1215.2 336.7,1213.1 C339.2,1211.1 337.5,1208.2 337.7,1207.2"/>
<ellipse stroke-width="2.8" fill="#fff" cx="322.6" cy="1206.2" rx="15.0" ry="8.7" transform="rotate(0 322.6 1206.2)"/>
<ellipse stroke-width="2.6" cx="322.6" cy="1206.4" rx="8.9" ry="5.1" transform="rotate(0 322.6 1206.4)"/>
<path stroke-width="2.2"  d="M316.0,1208.7 Q322.6,1204.7 329.3,1208.7"/>
<path stroke-width="2.2"  d="M309.6,1211.2 Q322.6,1219.1 335.7,1211.2"/>
<path stroke-width="2.6" fill="#fff"  d="M307.6,1234.8 C307.8,1235.8 306.1,1238.9 308.6,1240.8 C311.1,1242.6 317.9,1245.7 322.6,1245.7 C327.3,1245.7 334.2,1242.6 336.7,1240.8 C339.2,1238.9 337.5,1235.8 337.7,1234.8"/>
<ellipse stroke-width="2.8" fill="#fff" cx="322.6" cy="1233.6" rx="15.0" ry="8.7" transform="rotate(0 322.6 1233.6)"/>
<ellipse stroke-width="2.6" cx="322.6" cy="1234.0" rx="8.9" ry="5.1" transform="rotate(0 322.6 1234.0)"/>
<path stroke-width="2.2"  d="M316.0,1235.8 Q322.6,1231.9 329.3,1235.8"/>
<path stroke-width="2.6"  d="M309.6,1239.3 Q322.6,1247.2 335.7,1239.3"/>
<path stroke-width="2.6" fill="#fff"  d="M 308.0,1317.7 L 307.6,1344.1 C 308.4,1348.1 314.0,1351.3 322.1,1353.7 C 334.1,1357.3 346.1,1360.9 354.1,1361.8 L 370.9,1362.6 L 374.2,1361.8 C 382.2,1356.9 394.2,1348.1 405.4,1335.3 L 405.4,1307.3 C 404.6,1302.4 400.6,1300.4 395.8,1300.8 C 391.8,1301.2 389.4,1304.0 386.2,1306.4 L 361.3,1325.7 L 346.9,1323.7 L 346.9,1307.7 L 342.1,1304.8 L 336.5,1309.7 L 336.1,1313.7 C 333.3,1308.9 328.5,1306.4 322.1,1306.4 C 314.0,1306.4 308.0,1310.5 308.0,1317.7 Z"/>
<path stroke-width="2.4"  d="M 336.5,1324.9 L 360.5,1328.1 L 370.1,1332.5"/>
<path stroke-width="2"  d="M 338.1,1326.5 C 346.1,1330.5 355.7,1333.7 365.3,1335.3 L 369.3,1334.5"/>
<path stroke-width="2.4"  d="M 361.3,1326.1 L 370.1,1332.1 L 373.4,1331.3 L 401.4,1306.4"/>
<path stroke-width="2"  d="M 361.3,1326.1 L 362.9,1324.9"/>
<path stroke-width="2.4"  d="M 370.1,1332.1 L 370.5,1362.2 M 372.6,1332.1 L 372.6,1362.6"/>
<path stroke-width="2.4"  d="M 336.5,1309.7 L 346.9,1307.7 M 336.5,1309.7 L 336.5,1324.9"/>
<path stroke-width="2.4"  d="M 308.4,1320.1 C 310.8,1324.9 317.3,1327.3 322.1,1327.3 C 328.5,1327.3 334.1,1324.9 335.7,1320.9"/>
<ellipse stroke-width="2.6" fill="#fff" cx="322.1" cy="1314.1" rx="13.6" ry="8.8" transform="rotate(0 322.1 1314.1)"/>
<path stroke-width="2.6" fill="#fff"  d="M 314.0,1276.8 L 314.4,1313.7 C 315.6,1316.9 318.9,1318.1 322.9,1318.1 C 326.9,1318.1 330.1,1316.9 331.3,1313.7 L 331.7,1276.8"/>
<path stroke-width="2.6" fill="#fff"  d="M314.0,1272.3 C314.0,1273.5 312.6,1277.5 314.0,1279.2 C315.5,1280.9 319.7,1282.7 322.6,1282.7 C325.5,1282.7 329.8,1280.9 331.3,1279.2 C332.7,1277.5 332.7,1274.0 331.3,1272.3 C329.8,1270.7 325.5,1269.4 322.6,1269.4 C319.7,1269.4 315.5,1271.8 314.0,1272.3"/>
<path stroke-width="2.4"  d="M315.5,1274.8 Q322.6,1280.7 329.8,1274.8"/>
<path stroke-width="2.6" fill="#fff"  d="M317.5,1258.5 C317.5,1260.6 316.6,1268.9 317.5,1271.3 C318.3,1273.8 320.8,1273.3 322.6,1273.3 C324.4,1273.3 327.4,1273.8 328.3,1271.3 C329.3,1268.9 329.3,1261.0 328.3,1258.5 C327.4,1256.0 324.4,1256.5 322.6,1256.5 C320.8,1256.5 318.3,1258.2 317.5,1258.5"/>
<path stroke-width="2.2"  d="M318.5,1261.5 Q322.3,1264.4 327.3,1261.5"/>
<path stroke-width="2.2"  d="M318.5,1265.4 Q322.3,1268.4 327.3,1265.4"/>
<path stroke-width="2.2"  d="M318.5,1269.4 Q322.3,1272.3 327.3,1269.4"/>
<path stroke-width="2.6" fill="#fff"  d="M 316.1,1428.8 L 316.1,1421.4 C 316.6,1419.7 319.0,1418.9 321.5,1418.1 L 321.1,1411.4 L 326.5,1409.8 L 331.4,1419.7 C 334.8,1421.8 338.9,1422.6 343.0,1422.2 C 351.3,1421.4 359.6,1414.8 360.8,1404.0 L 366.2,1403.6 C 368.7,1404.8 370.3,1407.3 374.5,1408.5 L 379.4,1409.0 C 382.8,1409.8 384.4,1411.4 384.4,1414.8 L 384.4,1424.7 C 382.8,1427.2 381.5,1428.0 379.4,1428.8 L 379.4,1433.0 C 377.8,1437.9 372.8,1442.9 366.2,1446.2 C 359.6,1449.5 351.3,1451.2 344.7,1449.5 C 338.1,1447.9 333.1,1445.4 329.0,1437.9 L 327.3,1438.8 C 323.2,1438.8 318.2,1437.1 316.1,1433.0 Z"/>
<path stroke-width="2.6"  d="M316.1,1422.2 C316.9,1423.1 318.7,1426.5 320.7,1427.6 C322.7,1428.7 326.1,1428.3 328.1,1428.8 C330.2,1429.3 331.3,1429.5 333.1,1430.5 C334.9,1431.4 337.9,1433.9 338.9,1434.6"/>
<path stroke-width="2.4"  d="M328.1,1429.7 L328.1,1437.9"/>
<path stroke-width="2.4"  d="M329.0,1430.5 L334.8,1436.3 L334.8,1442.9"/>
<path stroke-width="2.4"  d="M326.5,1410.6 L338.9,1434.6"/>
<ellipse stroke-width="2.4" cx="326.5" cy="1423.4" rx="4.1" ry="2.3" transform="rotate(0 326.5 1423.4)"/>
<path stroke-width="2.6"  d="M338.9,1434.6 C339.3,1435.4 340.1,1438.1 341.4,1439.6 C342.6,1441.1 344.4,1442.8 346.3,1443.7 C348.3,1444.6 350.2,1445.1 353.0,1445.0 C355.7,1444.8 359.9,1444.3 362.9,1442.9 C365.9,1441.4 369.2,1438.8 371.2,1436.3 C373.1,1433.8 373.9,1429.4 374.5,1428.0"/>
<path stroke-width="2.4"  d="M361.2,1404.8 L374.5,1426.3 L378.6,1425.5"/>
<path stroke-width="2.4"  d="M379.4,1426.3 L379.0,1433.0"/>
<path stroke-width="2.2"  d="M378.6,1421.4 L383.6,1418.9"/>
<ellipse stroke-width="2.4" cx="374.5" cy="1413.9" rx="4.6" ry="2.3" transform="rotate(0 374.5 1413.9)"/>
<path stroke-width="2.6"  d="M374.9,1447.9 L374.9,1460.3"/>
<ellipse stroke-width="2.6" fill="#fff" cx="374.9" cy="1474.8" rx="16.1" ry="9.5" transform="rotate(0 374.9 1474.8)"/>
<ellipse stroke-width="2.6" cx="374.9" cy="1474.8" rx="8.3" ry="4.6" transform="rotate(0 374.9 1474.8)"/>
<ellipse stroke-width="2.6" fill="#fff" cx="374.9" cy="1548.0" rx="14.9" ry="9.9" transform="rotate(0 374.9 1548.0)"/>
<ellipse stroke-width="2.6" fill="#fff" cx="374.9" cy="1541.4" rx="14.9" ry="8.3" transform="rotate(0 374.9 1541.4)"/>
<path stroke-width="2.6" fill="#fff"  d="M367.4,1542.2 L367.4,1501.6 L370.3,1497.9 L374.9,1497.1 L379.4,1497.9 L382.3,1501.6 L382.3,1542.2 L374.9,1545.1 L367.4,1542.2"/>
<path stroke-width="2.4"  d="M368.7,1502.5 Q374.9,1506.6 381.1,1502.5"/>
<path stroke-width="2.4"  d="M368.7,1508.3 Q374.9,1512.4 381.1,1508.3"/>
<path stroke-width="2.4"  d="M368.7,1514.1 Q374.9,1518.2 381.1,1514.1"/>
<path stroke-width="2.4"  d="M368.7,1519.9 Q374.9,1524.0 381.1,1519.9"/>
<path stroke-width="2.4"  d="M368.7,1525.6 Q374.9,1529.8 381.1,1525.6"/>
<path stroke-width="2.4"  d="M368.7,1531.4 Q374.9,1535.6 381.1,1531.4"/>
<path stroke-width="2.4"  d="M368.7,1537.2 Q374.9,1541.4 381.1,1537.2"/>
<path stroke-width="2.4"  d="M368.7,1542.2 Q374.9,1546.3 381.1,1542.2"/>
<text transform="translate(293,2108) skewY(-26) scale(0.62,1)" font-weight="bold" font-style="italic" font-size="41" style="font-family:'Liberation Sans'">FWD</text>
<path stroke-width="2.4"  d="M560.0,1248.6 L572.9,1263.4"/>
<path stroke-width="2.4" fill="#fff"  d="M574.5,1264.7 L574.5,1271.4 L576.0,1273.9 L580.3,1274.5 L584.7,1273.3 L585.6,1272.1 L585.6,1264.0"/>
<ellipse stroke-width="2.4" fill="#fff" cx="580.0" cy="1263.7" rx="5.5" ry="3.1" transform="rotate(0 580.0 1263.7)"/>
<path stroke-width="1.8"  d="M575.4,1268.4 Q580.3,1271.0 585.3,1268.1"/>
<path stroke-width="4"  d="M583.4,1270.8 L585.9,1275.1"/>
<path stroke-width="2.6" fill="#fff"  d="M585.9,1299.2 L579.7,1292.4 L579.4,1284.4 L584.7,1277.0 L590.8,1272.1 L598.2,1270.8 L605.0,1272.7 L608.7,1277.0 L621.7,1297.3 L633.4,1316.4 L633.4,1322.6 L621.0,1330.0 L613.6,1326.3 L600.1,1314.0 L597.0,1312.7 L589.6,1306.6 Z"/>
<path stroke-width="4"  d="M586.5,1301.7 C586.8,1299.8 587.0,1293.6 588.4,1290.6 C589.7,1287.5 592.1,1285.0 594.5,1283.2 C597.0,1281.3 600.7,1280.1 603.2,1279.5 C605.6,1278.8 608.3,1279.5 609.3,1279.5"/>
<path stroke-width="2.6"  d="M590.2,1302.3 C590.5,1300.8 590.7,1296.2 592.1,1293.6 C593.4,1291.1 596.2,1288.4 598.2,1286.9 C600.3,1285.3 602.0,1284.8 604.4,1284.4 C606.8,1284.0 611.1,1284.4 612.4,1284.4"/>
<path stroke-width="2.6"  d="M598.2,1306.0 C599.0,1304.8 601.3,1300.9 603.2,1299.2 C605.0,1297.4 607.3,1296.2 609.3,1295.5 C611.4,1294.8 613.5,1294.6 615.5,1294.9 C617.4,1295.2 620.1,1296.9 621.0,1297.3"/>
<path stroke-width="2.6"  d="M614.3,1327.5 C614.2,1326.3 612.9,1322.3 613.6,1320.1 C614.4,1318.0 616.6,1315.8 618.6,1314.6 C620.5,1313.4 623.6,1313.0 625.4,1312.7 C627.1,1312.5 627.7,1312.5 629.1,1313.4 C630.4,1314.2 632.6,1317.0 633.4,1317.7"/>
<path stroke-width="2.6"  d="M621.0,1330.0 C620.7,1329.1 619.2,1326.2 619.2,1324.5 C619.2,1322.7 620.0,1320.8 621.0,1319.5 C622.1,1318.3 624.1,1317.3 625.4,1317.1 C626.6,1316.9 627.4,1317.5 628.4,1318.3 C629.5,1319.1 631.0,1321.4 631.5,1322.0"/>
<path stroke-width="2.6" fill="#fff"  d="M800.3,1341.0 L783.0,1360.1 L782.4,1364.4 L770.1,1378.0 L765.1,1380.4 L762.7,1384.7 L764.5,1389.7 L763.9,1390.3 L754.7,1399.5 L736.2,1418.6 L734.9,1421.1 L737.4,1426.0 L745.4,1430.4 L748.5,1427.9 L765.1,1410.0 L766.4,1408.8 L773.2,1397.7 L779.3,1398.3 L785.5,1390.9 L799.1,1374.9 L818.2,1352.1 L818.2,1349.6 L808.9,1338.5 L804.0,1338.5 Z"/>
<path stroke-width="2.4"  d="M800.9,1341.6 C801.0,1342.4 800.4,1344.8 801.5,1346.5 C802.6,1348.3 805.2,1350.7 807.7,1352.1 C810.1,1353.4 814.6,1354.6 816.3,1354.5 C818.1,1354.4 817.9,1352.0 818.2,1351.4"/>
<path stroke-width="2.4"  d="M805.2,1339.7 C805.6,1340.8 806.6,1344.4 807.7,1345.9 C808.8,1347.4 810.6,1348.4 812.0,1349.0 C813.4,1349.6 815.6,1349.5 816.3,1349.6"/>
<path stroke-width="2.6"  d="M783.0,1360.1 C783.2,1361.2 783.2,1364.8 784.3,1366.9 C785.3,1368.9 786.7,1371.1 789.2,1372.4 C791.7,1373.7 797.4,1374.5 799.1,1374.9"/>
<path stroke-width="2.4"  d="M786.7,1370.6 L773.2,1386.6"/>
<path stroke-width="5"  d="M795.4,1374.9 L781.2,1391.5"/>
<path stroke-width="2.4"  d="M768.2,1381.0 L770.1,1389.7 L780.6,1394.0"/>
<path stroke-width="2.4"  d="M764.5,1389.7 L769.5,1394.0 L779.3,1398.3"/>
<path stroke-width="5"  d="M754.0,1400.1 C754.4,1401.1 754.8,1404.3 755.9,1405.7 C757.0,1407.1 759.1,1408.3 760.8,1408.8 C762.6,1409.3 765.5,1408.8 766.4,1408.8"/>
<path stroke-width="2.4"  d="M737.4,1419.9 L740.5,1425.4 L748.5,1428.5"/>
<path stroke-width="2.4"  d="M735.5,1422.3 L739.2,1427.3 L746.0,1430.4"/>
<path stroke-width="2.4" fill="#fff"  d="M929.9,1322.1 L954.3,1330.5 L952.1,1342.1 L926.6,1334.4 Z"/>
<path stroke-width="2"  d="M931.0,1323.3 L927.7,1333.2"/>
<path stroke-width="2"  d="M954.3,1330.5 Q946.6,1330.2 947.7,1342.1"/>
<path stroke-width="2.4"  d="M953.2,1335.5 L998.7,1350.4"/>
<path stroke-width="2.4"  d="M951.0,1341.0 L998.7,1354.9"/>
<path stroke-width="2.6" fill="#fff"  d="M999.3,1350.4 L999.3,1362.1 L1003.2,1366.0 L1008.7,1366.5 L1013.7,1362.1 L1013.7,1350.4"/>
<ellipse stroke-width="2.6" fill="#fff" cx="1006.5" cy="1350.4" rx="7.2" ry="4.7" transform="rotate(0 1006.5 1350.4)"/>
<ellipse stroke-width="2.2" cx="1006.5" cy="1349.9" rx="3.3" ry="2.0" transform="rotate(0 1006.5 1349.9)"/>
<path stroke-width="2.4" d="M1018.7,1359.3 L1113.5,1392.8"/>
<path stroke-width="2.2"  d="M 918.1,1263.3 L 970.2,1289.7 M 918.1,1269.7 L 970.2,1295.3"/>
<path stroke-width="1.4"  d="M 918.9,1266.1 L 970.2,1292.5"/>
<path stroke-width="2.2" fill="#fff"  d="M 970.2,1289.7 C 975.8,1290.1 983.8,1291.7 989.4,1294.1 C 991.0,1295.3 990.6,1297.7 988.6,1298.1 C 982.2,1298.5 975.0,1296.9 970.2,1295.3 C 969.4,1293.3 969.4,1291.3 970.2,1289.7 Z"/>
<ellipse stroke-width="1.8" cx="981.4" cy="1294.1" rx="7.2" ry="1.8" transform="rotate(4 981.4 1294.1)"/>
<path stroke-width="2.4" fill="#fff"  d="M 883.2,1280.1 L 890.0,1285.3 L 899.7,1276.9 L 892.4,1268.5 Z"/>
<path stroke-width="2"  d="M 885.2,1278.1 L 894.0,1270.1 M 886.4,1280.1 L 895.6,1271.7 M 888.0,1282.1 L 897.3,1273.7 M 889.6,1283.7 L 898.5,1275.7"/>
<path stroke-width="2.4" fill="#fff"  d="M 885.2,1262.9 C 887.6,1261.7 893.2,1262.5 896.4,1264.1 C 901.3,1266.9 905.3,1271.7 906.9,1278.1 C 903.7,1278.9 899.7,1276.5 896.4,1273.7 C 891.6,1270.1 886.8,1266.1 885.2,1262.9 Z"/>
<path stroke-width="1.8"  d="M 887.2,1263.7 C 894.0,1265.3 900.5,1270.1 904.5,1276.5"/>
<path stroke-width="2.6" fill="#fff"  d="M 894.8,1261.3 C 893.2,1255.6 897.3,1250.0 904.5,1249.2 C 910.9,1248.8 915.3,1252.4 916.5,1258.1 L 918.9,1262.9 L 918.1,1269.3 L 914.9,1272.5 L 907.7,1270.1 L 897.3,1264.5 Z"/>
<path stroke-width="2.2"  d="M 896.8,1260.9 C 896.4,1255.6 899.7,1252.0 904.5,1251.2 M 905.3,1252.4 L 901.3,1261.3 L 907.7,1262.1 L 914.1,1258.1 M 907.7,1262.1 L 910.1,1270.1 M 914.1,1258.1 L 917.3,1263.7"/>
<path stroke-width="1.5" d="M811.1,1446.6 L819.0,1451.5 M807.4,1449.3 L815.3,1453.9 M803.8,1451.9 L811.6,1456.3 M800.1,1454.6 L807.9,1458.7 M797.9,1457.7 L805.6,1461.6 M796.4,1461.0 L804.0,1464.8 M794.9,1464.4 L802.3,1467.9 M793.9,1467.7 L801.3,1471.2 M794.1,1471.0 L801.6,1474.8 M794.2,1474.4 L802.0,1478.4 M794.4,1477.7 L802.3,1482.0 M821.0,1453.0 L830.0,1457.7 M817.3,1455.2 L826.0,1459.4 M813.6,1457.5 L822.0,1461.1 M809.9,1459.8 L817.9,1462.7 M807.6,1462.4 L815.7,1465.5 M806.0,1465.2 L814.4,1468.8 M804.3,1468.1 L813.1,1472.2 M803.3,1471.2 L812.2,1475.7 M803.6,1475.0 L812.2,1479.7 M804.0,1478.8 L812.2,1483.7 M804.3,1482.5 L812.2,1487.7"/>
<path stroke-width="1.6" d="M811.1,1446.6 C809.1,1448.1 801.8,1452.2 798.9,1455.5 C796.0,1458.8 794.6,1462.9 793.9,1466.6 C793.1,1470.3 794.3,1475.8 794.4,1477.7"/>
<path stroke-width="1.6" d="M819.0,1451.5 C817.0,1452.8 809.7,1456.4 806.7,1459.5 C803.7,1462.6 801.9,1466.2 801.2,1470.0 C800.5,1473.8 802.1,1480.0 802.3,1482.0"/>
<path stroke-width="1.6" d="M821.0,1453.0 C819.0,1454.2 811.7,1457.7 808.7,1460.5 C805.7,1463.3 803.9,1466.3 803.2,1470.0 C802.5,1473.7 804.1,1480.4 804.3,1482.5"/>
<path stroke-width="2.2" d="M830.0,1457.7 C827.8,1458.6 819.6,1460.5 816.6,1463.3 C813.6,1466.1 812.9,1470.3 812.2,1474.4 C811.5,1478.5 812.2,1485.5 812.2,1487.7"/>
<path stroke-width="4" d="M809,1447 L828,1457 M795,1479 L812,1488"/>
<path stroke-width="1.5" d="M927.6,1514.3 L935.5,1519.2 M923.9,1517.0 L931.8,1521.6 M920.3,1519.6 L928.1,1524.0 M916.6,1522.3 L924.4,1526.4 M914.4,1525.4 L922.1,1529.3 M912.9,1528.8 L920.5,1532.5 M911.4,1532.1 L918.8,1535.6 M910.5,1535.4 L917.8,1538.9 M910.6,1538.7 L918.1,1542.5 M910.8,1542.1 L918.5,1546.1 M910.9,1545.4 L918.8,1549.7 M937.5,1520.7 L946.5,1525.4 M933.8,1523.0 L942.5,1527.1 M930.1,1525.2 L938.5,1528.8 M926.4,1527.5 L934.4,1530.4 M924.1,1530.1 L932.2,1533.2 M922.5,1533.0 L930.9,1536.6 M920.8,1535.8 L929.6,1539.9 M919.8,1539.0 L928.7,1543.4 M920.1,1542.7 L928.7,1547.4 M920.5,1546.5 L928.7,1551.4 M920.8,1550.2 L928.7,1555.4"/>
<path stroke-width="1.6" d="M927.6,1514.3 C925.6,1515.8 918.3,1519.9 915.4,1523.2 C912.5,1526.5 911.1,1530.6 910.4,1534.3 C909.6,1538.0 910.8,1543.6 910.9,1545.4"/>
<path stroke-width="1.6" d="M935.5,1519.2 C933.5,1520.5 926.2,1524.1 923.2,1527.2 C920.2,1530.3 918.4,1534.0 917.7,1537.7 C917.0,1541.5 918.6,1547.7 918.8,1549.7"/>
<path stroke-width="1.6" d="M937.5,1520.7 C935.5,1522.0 928.2,1525.4 925.2,1528.2 C922.2,1531.0 920.4,1534.0 919.7,1537.7 C919.0,1541.4 920.6,1548.1 920.8,1550.2"/>
<path stroke-width="2.2" d="M946.5,1525.4 C944.3,1526.3 936.1,1528.2 933.1,1531.0 C930.1,1533.8 929.4,1538.0 928.7,1542.1 C928.0,1546.2 928.7,1553.2 928.7,1555.4"/>
<path stroke-width="4" d="M925.5,1514.7 L944.5,1524.7 M911.5,1546.7 L928.5,1555.7"/>
<path stroke-width="2.6" fill="#fff"  d="M547.6,777.1 C546.0,777.7 542.4,775.8 539.7,773.1 C537.0,770.5 532.7,765.6 531.3,761.3 C530.0,757.0 530.4,752.3 531.8,747.5 C533.2,742.7 535.9,736.5 539.7,732.7 C543.5,728.9 549.6,726.4 554.5,724.8 C559.5,723.2 564.9,722.8 569.3,723.3 C573.8,723.8 577.9,725.7 581.2,727.8 C584.4,729.8 587.4,733.0 589.1,735.6 C590.7,738.3 590.9,740.7 591.0,743.5 C591.2,746.3 592.0,750.6 590.0,752.4 C588.1,754.2 585.9,751.6 579.2,754.4 C572.4,757.2 554.9,765.4 549.6,769.2 C544.3,773.0 549.3,776.4 547.6,777.1 Z"/>
<path stroke-width="2.2"  d="M542.7,773.1 C541.5,771.2 536.6,765.7 535.8,761.3 C535.0,756.9 535.8,750.9 537.8,746.5 C539.7,742.1 543.7,737.6 547.6,734.7 C551.6,731.7 557.0,729.6 561.4,728.7 C565.9,727.9 570.3,728.2 574.3,729.7 C578.2,731.2 582.8,735.2 585.1,737.6 C587.4,740.1 587.6,743.4 588.1,744.5"/>
<path stroke-width="2.6" fill="#fff"  d="M547.6,777.1 L542.7,756.4 L549.6,742.6 L561.4,735.6 L574.3,734.7 L584.1,739.6 L590.0,752.4 L627.5,813.6 L627.5,819.5 L589.1,841.2 L581.2,837.3 Z"/>
<path stroke-width="3"  d="M547.6,777.1 L581.2,837.3 L589.1,841.2"/>
<path stroke-width="3"  d="M590.0,752.4 L627.5,813.6 L627.5,819.5"/>
<path stroke-width="1.8"  d="M553.5,739.6 L602.9,820.5"/>
<path stroke-width="1.8"  d="M556.5,737.6 L604.8,819.5"/>
<path stroke-width="1.8"  d="M571.3,735.6 L618.6,816.5"/>
<path stroke-width="1.8"  d="M575.2,735.6 L620.6,815.5"/>
<path stroke-width="1.8"  d="M542.7,752.4 L591.0,833.3"/>
<path stroke-width="1.8"  d="M545.6,750.4 L592.0,831.3"/>
<path stroke-width="1.8"  d="M581.2,742.6 L623.6,812.6"/>
<path stroke-width="1.8"  d="M549.6,774.1 L583.1,832.3"/>
<path stroke-width="2.2"  d="M543.7,751.4 Q549.1,738.1 556.5,738.6"/>
<path stroke-width="2.2"  d="M557.5,737.1 Q565.4,734.2 573.3,735.2"/>
<path stroke-width="3.2"  d="M551.6,763.3 Q554.5,750.4 577.2,749.5"/>
<path stroke-width="3.2"  d="M562.4,781.0 Q566.9,770.2 589.1,767.2"/>
<path stroke-width="3.2"  d="M573.3,797.8 Q577.7,786.4 599.9,785.0"/>
<path stroke-width="3.2"  d="M583.1,815.5 Q587.1,804.2 610.8,802.7"/>
<ellipse stroke-width="2.8" fill="#fff" cx="622" cy="854.5" rx="39" ry="34.5" transform="rotate(-12 622 854.5)"/>
<path stroke-width="1.8" d="M588,850 C592,832 610,822 628,823 C645,824 655,835 657,852"/>
<ellipse stroke-width="2.8" cx="622.7" cy="856.4" rx="18" ry="14.5" transform="rotate(-20 622.7 856.4)"/>
<ellipse stroke-width="1.4" cx="622.7" cy="856.4" rx="16" ry="12.5" transform="rotate(-20 622.7 856.4)"/>
<path stroke-width="2.4" fill="#fff"  d="M1486.1,1655.4 L1501.8,1646.2 L1509.2,1655.4 L1495.4,1667.4 Z"/>
<ellipse stroke-width="2.6" fill="#fff" cx="1487.0" cy="1664.7" rx="6.5" ry="11.1" transform="rotate(-35 1487.0 1664.7)"/>
<ellipse stroke-width="2" cx="1489.8" cy="1662.8" rx="4.6" ry="8.3" transform="rotate(-35 1489.8 1662.8)"/>
<path stroke-width="2.2"  d="M1507.4,1650.8 L1530.5,1629.5"/>
<path stroke-width="2.2"  d="M1509.2,1656.4 L1532.4,1634.2"/>
<path stroke-width="2.4" fill="#fff"  d="M1526.8,1627.7 C1527.1,1625.5 1530.5,1622.3 1532.4,1621.2 C1534.2,1620.1 1536.4,1620.4 1537.9,1621.2 C1539.4,1622.0 1541.9,1623.8 1541.6,1625.8 C1541.3,1627.8 1537.9,1631.8 1536.1,1633.2 C1534.2,1634.6 1532.0,1635.1 1530.5,1634.2 C1529.0,1633.2 1526.5,1629.8 1526.8,1627.7 Z"/>
<path stroke-width="1.8"  d="M1528.7,1627.7 L1532.4,1631.4"/>
<ellipse stroke-width="2.6" cx="1549.9" cy="1613.8" rx="11.5" ry="5.2" transform="rotate(51 1549.9 1613.8)"/>
<ellipse stroke-width="2.6" cx="1555.5" cy="1609.3" rx="11.5" ry="5.2" transform="rotate(51 1555.5 1609.3)"/>
<ellipse stroke-width="2.6" cx="1561.0" cy="1604.7" rx="11.5" ry="5.2" transform="rotate(51 1561.0 1604.7)"/>
<ellipse stroke-width="2.6" cx="1566.6" cy="1600.2" rx="11.5" ry="5.2" transform="rotate(51 1566.6 1600.2)"/>
<ellipse stroke-width="2.6" cx="1572.1" cy="1595.7" rx="11.5" ry="5.2" transform="rotate(51 1572.1 1595.7)"/>
<ellipse stroke-width="2.6" cx="1577.7" cy="1591.2" rx="11.5" ry="5.2" transform="rotate(51 1577.7 1591.2)"/>
<ellipse stroke-width="2.6" cx="1583.2" cy="1586.6" rx="11.5" ry="5.2" transform="rotate(51 1583.2 1586.6)"/>
<ellipse stroke-width="2.6" cx="1588.8" cy="1582.1" rx="11.5" ry="5.2" transform="rotate(51 1588.8 1582.1)"/>
<ellipse stroke-width="2.6" cx="1594.3" cy="1577.6" rx="11.5" ry="5.2" transform="rotate(51 1594.3 1577.6)"/>
<ellipse stroke-width="2.6" cx="1599.9" cy="1573.0" rx="11.5" ry="5.2" transform="rotate(51 1599.9 1573.0)"/>
<ellipse stroke-width="2.6" cx="1605.4" cy="1568.5" rx="11.5" ry="5.2" transform="rotate(51 1605.4 1568.5)"/>
</g>
<g class="lbl" transform="translate(276.74,460.10) scale(0.3950,0.3130)"><text font-size="100">3</text></g>
<g class="lbl" transform="translate(220.14,627.80) scale(0.3950,0.3130)"><text font-size="100">6</text></g>
<g class="lbl" transform="translate(220.34,709.96) scale(0.3950,0.3130)"><text font-size="100">4</text></g>
<g class="lbl" transform="translate(198.44,770.96) scale(0.3950,0.3130)"><text font-size="100"><tspan fill="transparent" style="stroke:none">1</tspan>2</text><path transform="translate(0.00,0) scale(0.048828,-0.048828)" d="M515,0 L515,1237 C430,1150 300,1080 190,1055 L190,1185 C330,1225 455,1300 535,1409 L696,1409 L696,0 Z"/></g>
<g class="lbl" transform="translate(220.39,836.60) scale(0.3950,0.3130)"><text font-size="100">8</text></g>
<g class="lbl" transform="translate(194.69,885.30) scale(0.3950,0.3130)"><text font-size="100"><tspan fill="transparent" style="stroke:none">1</tspan>4</text><path transform="translate(0.00,0) scale(0.048828,-0.048828)" d="M515,0 L515,1237 C430,1150 300,1080 190,1055 L190,1185 C330,1225 455,1300 535,1409 L696,1409 L696,0 Z"/></g>
<g class="lbl" transform="translate(197.05,934.70) scale(0.3950,0.3130)"><text font-size="100"><tspan fill="transparent" style="stroke:none">1</tspan><tspan fill="transparent" style="stroke:none">1</tspan></text><path transform="translate(0.00,0) scale(0.048828,-0.048828)" d="M515,0 L515,1237 C430,1150 300,1080 190,1055 L190,1185 C330,1225 455,1300 535,1409 L696,1409 L696,0 Z"/><path transform="translate(55.62,0) scale(0.048828,-0.048828)" d="M515,0 L515,1237 C430,1150 300,1080 190,1055 L190,1185 C330,1225 455,1300 535,1409 L696,1409 L696,0 Z"/></g>
<g class="lbl" transform="translate(211.39,988.81) scale(0.3950,0.3130)"><text font-size="100">7</text></g>
<g class="lbl" transform="translate(264.99,994.60) scale(0.3950,0.3130)"><text font-size="100">9</text></g>
<g class="lbl" transform="translate(419.49,953.30) scale(0.3950,0.3130)"><text font-size="100"><tspan fill="transparent" style="stroke:none">1</tspan>6</text><path transform="translate(0.00,0) scale(0.048828,-0.048828)" d="M515,0 L515,1237 C430,1150 300,1080 190,1055 L190,1185 C330,1225 455,1300 535,1409 L696,1409 L696,0 Z"/></g>
<g class="lbl" transform="translate(483.84,951.05) scale(0.3950,0.3130)"><text font-size="100"><tspan fill="transparent" style="stroke:none">1</tspan>8</text><path transform="translate(0.00,0) scale(0.048828,-0.048828)" d="M515,0 L515,1237 C430,1150 300,1080 190,1055 L190,1185 C330,1225 455,1300 535,1409 L696,1409 L696,0 Z"/></g>
<g class="lbl" transform="translate(545.34,948.45) scale(0.3950,0.3130)"><text font-size="100"><tspan fill="transparent" style="stroke:none">1</tspan>7</text><path transform="translate(0.00,0) scale(0.048828,-0.048828)" d="M515,0 L515,1237 C430,1150 300,1080 190,1055 L190,1185 C330,1225 455,1300 535,1409 L696,1409 L696,0 Z"/></g>
<g class="lbl" transform="translate(540.94,1077.80) scale(0.3950,0.3130)"><text font-size="100"><tspan fill="transparent" style="stroke:none">1</tspan>8</text><path transform="translate(0.00,0) scale(0.048828,-0.048828)" d="M515,0 L515,1237 C430,1150 300,1080 190,1055 L190,1185 C330,1225 455,1300 535,1409 L696,1409 L696,0 Z"/></g>
<g class="lbl" transform="translate(533.44,1201.10) scale(0.3950,0.3130)"><text font-size="100"><tspan fill="transparent" style="stroke:none">1</tspan>7</text><path transform="translate(0.00,0) scale(0.048828,-0.048828)" d="M515,0 L515,1237 C430,1150 300,1080 190,1055 L190,1185 C330,1225 455,1300 535,1409 L696,1409 L696,0 Z"/></g>
<g class="lbl" transform="translate(205.69,1181.24) scale(0.3950,0.3130)"><text font-size="100"><tspan fill="transparent" style="stroke:none">1</tspan>5</text><path transform="translate(0.00,0) scale(0.048828,-0.048828)" d="M515,0 L515,1237 C430,1150 300,1080 190,1055 L190,1185 C330,1225 455,1300 535,1409 L696,1409 L696,0 Z"/></g>
<g class="lbl" transform="translate(205.69,1230.65) scale(0.3950,0.3130)"><text font-size="100"><tspan fill="transparent" style="stroke:none">1</tspan>0</text><path transform="translate(0.00,0) scale(0.048828,-0.048828)" d="M515,0 L515,1237 C430,1150 300,1080 190,1055 L190,1185 C330,1225 455,1300 535,1409 L696,1409 L696,0 Z"/></g>
<g class="lbl" transform="translate(205.69,1279.25) scale(0.3950,0.3130)"><text font-size="100"><tspan fill="transparent" style="stroke:none">1</tspan>3</text><path transform="translate(0.00,0) scale(0.048828,-0.048828)" d="M515,0 L515,1237 C430,1150 300,1080 190,1055 L190,1185 C330,1225 455,1300 535,1409 L696,1409 L696,0 Z"/></g>
<g class="lbl" transform="translate(226.99,1332.29) scale(0.3950,0.3130)"><text font-size="100">5</text></g>
<g class="lbl" transform="translate(503.38,1408.05) scale(0.3950,0.3130)"><text font-size="100">22</text></g>
<g class="lbl" transform="translate(212.64,1440.30) scale(0.3950,0.3130)"><text font-size="100"><tspan fill="transparent" style="stroke:none">1</tspan>9</text><path transform="translate(0.00,0) scale(0.048828,-0.048828)" d="M515,0 L515,1237 C430,1150 300,1080 190,1055 L190,1185 C330,1225 455,1300 535,1409 L696,1409 L696,0 Z"/></g>
<g class="lbl" transform="translate(213.69,1505.61) scale(0.3950,0.3130)"><text font-size="100">2<tspan fill="transparent" style="stroke:none">1</tspan></text><path transform="translate(55.62,0) scale(0.048828,-0.048828)" d="M515,0 L515,1237 C430,1150 300,1080 190,1055 L190,1185 C330,1225 455,1300 535,1409 L696,1409 L696,0 Z"/></g>
<g class="lbl" transform="translate(211.88,1592.25) scale(0.3950,0.3130)"><text font-size="100">20</text></g>
<g class="lbl" transform="translate(677.34,705.25) scale(0.3950,0.3130)"><text font-size="100">2</text></g>
<g class="lbl" transform="translate(920.03,1187.85) scale(0.3950,0.3130)"><text font-size="100">23</text></g>
<g class="lbl" transform="translate(1177.21,1257.30) scale(0.3950,0.3130)"><text font-size="100"><tspan fill="transparent" style="stroke:none">1</tspan></text><path transform="translate(0.00,0) scale(0.048828,-0.048828)" d="M515,0 L515,1237 C430,1150 300,1080 190,1055 L190,1185 C330,1225 455,1300 535,1409 L696,1409 L696,0 Z"/></g>
<g class="lbl" transform="translate(1484.84,1318.65) scale(0.3950,0.3130)"><text font-size="100">2</text></g>
<g class="lbl" transform="translate(919.83,1428.05) scale(0.3950,0.3130)"><text font-size="100">24</text></g>
<g class="lbl" transform="translate(1556.93,1697.15) scale(0.3950,0.3130)"><text font-size="100">25</text></g>
<g class="lbl" transform="translate(185.06,2185.63) scale(0.3551,0.2732)"><text font-size="100">B5R<tspan fill="transparent" style="stroke:none">1</tspan>300-V350</text><path transform="translate(194.53,0) scale(0.048828,-0.048828)" d="M515,0 L515,1237 C430,1150 300,1080 190,1055 L190,1185 C330,1225 455,1300 535,1409 L696,1409 L696,0 Z"/></g>
</svg>
</body></html>
